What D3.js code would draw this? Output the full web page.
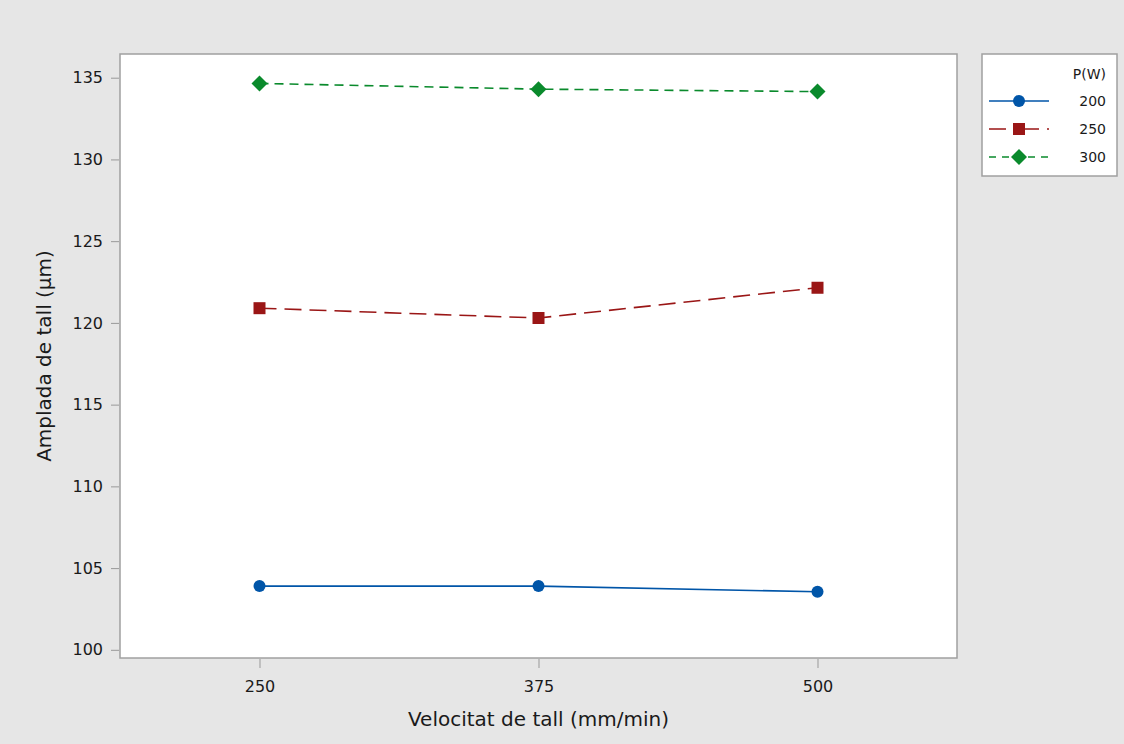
<!DOCTYPE html>
<html>
<head>
<meta charset="utf-8">
<script src="https://cdn.jsdelivr.net/npm/d3@7"></script>
<style>
  body { margin: 0; background: #e6e6e6; }
  text { font-family: "DejaVu Sans", sans-serif; fill: #1a1a1a; }
</style>
</head>
<body>
<div id="chart"></div>
<script>
'use strict';

var speeds = [250, 375, 500];
var powers = ['200', '250', '300'];
var width200 = [103.9, 103.9, 103.55];
var width250 = [120.9, 120.3, 122.15];
var width300 = [134.65, 134.3, 134.15];
var yTicks = [100, 105, 110, 115, 120, 125, 130, 135];

var series = [
  { name: powers[0], values: width200, color: '#0055a8', dash: null, shape: 'circle' },
  { name: powers[1], values: width250, color: '#9a1616', dash: '17,8', shape: 'square' },
  { name: powers[2], values: width300, color: '#0a8a2c', dash: '9,6', shape: 'diamond' }
];

var w = 1124, h = 744;
var plot = { left: 120, right: 957, top: 54, bottom: 658 };

var svg = d3.select('#chart').append('svg')
  .attr('width', w)
  .attr('height', h);

svg.append('rect')
  .attr('width', w)
  .attr('height', h)
  .attr('fill', '#e6e6e6');

var x = d3.scaleLinear().domain([187.5, 562.5]).range([plot.left, plot.right]);
var y = d3.scaleLinear().domain([99.5, 136.45]).range([plot.bottom, plot.top]);

/* Plot area */

svg.append('rect')
  .attr('x', plot.left)
  .attr('y', plot.top)
  .attr('width', plot.right - plot.left)
  .attr('height', plot.bottom - plot.top)
  .attr('fill', 'white')
  .attr('stroke', '#a0a0a0')
  .attr('stroke-width', 1.5);

/* Axes */

var xAxis = svg.append('g')
  .attr('transform', 'translate(0,' + (plot.bottom + 1) + ')')
  .call(d3.axisBottom(x).tickValues(speeds).tickSize(9).tickPadding(13));

var yAxis = svg.append('g')
  .attr('transform', 'translate(' + (plot.left - 1) + ',0)')
  .call(d3.axisLeft(y).tickValues(yTicks).tickSize(8).tickPadding(8));

[xAxis, yAxis].forEach(function(g) {
  g.select('.domain').remove();
  g.selectAll('.tick line').attr('stroke', '#999');
  g.selectAll('.tick text')
    .attr('font-size', '16px')
    .style('font-family', '"DejaVu Sans", sans-serif')
    .attr('fill', '#1a1a1a');
});

/* Axis titles */

svg.append('text')
  .text('Velocitat de tall (mm/min)')
  .attr('x', (plot.left + plot.right) / 2)
  .attr('y', 726)
  .attr('text-anchor', 'middle')
  .attr('font-size', '20px');

svg.append('text')
  .text('Amplada de tall (\u00b5m)')
  .attr('transform', 'translate(51,' + 356 + ') rotate(-90)')
  .attr('text-anchor', 'middle')
  .attr('font-size', '20px');

/* Lines */

var line = d3.line()
  .x(function(d, i) { return x(speeds[i]); })
  .y(function(d) { return y(d); });

function drawMarker(g, shape, color, cx, cy) {
  if (shape === 'circle') {
    g.append('circle').attr('cx', cx).attr('cy', cy).attr('r', 6).attr('fill', color);
  } else if (shape === 'square') {
    g.append('rect').attr('x', cx - 6).attr('y', cy - 6).attr('width', 12).attr('height', 12).attr('fill', color);
  } else {
    g.append('path')
      .attr('d', 'M' + cx + ',' + (cy - 8) + 'L' + (cx + 8) + ',' + cy + 'L' + cx + ',' + (cy + 8) + 'L' + (cx - 8) + ',' + cy + 'Z')
      .attr('fill', color);
  }
}

series.forEach(function(s) {
  svg.append('path')
    .attr('d', line(s.values))
    .attr('fill', 'none')
    .attr('stroke', s.color)
    .attr('stroke-width', 1.6)
    .attr('stroke-dasharray', s.dash);

  var g = svg.append('g');
  s.values.forEach(function(v, i) {
    drawMarker(g, s.shape, s.color, x(speeds[i]), y(v));
  });
});

/* Legend */

var legend = svg.append('g');

legend.append('rect')
  .attr('x', 982)
  .attr('y', 54)
  .attr('width', 135)
  .attr('height', 122)
  .attr('fill', 'white')
  .attr('stroke', '#a0a0a0')
  .attr('stroke-width', 1.5);

legend.append('text')
  .text('P(W)')
  .attr('x', 1106)
  .attr('y', 79)
  .attr('text-anchor', 'end')
  .attr('font-size', '14px');

series.forEach(function(s, i) {
  var ly = 101 + i * 28;
  legend.append('line')
    .attr('x1', 989)
    .attr('x2', 1049)
    .attr('y1', ly)
    .attr('y2', ly)
    .attr('stroke', s.color)
    .attr('stroke-width', 1.6)
    .attr('stroke-dasharray', s.dash === null ? null : (i === 1 ? '17,8,2,6' : '7,6'));
  drawMarker(legend, s.shape, s.color, 1019, ly);
  legend.append('text')
    .text(s.name)
    .attr('x', 1106)
    .attr('y', ly + 5)
    .attr('text-anchor', 'end')
    .attr('font-size', '14px');
});
</script>
</body>
</html>
